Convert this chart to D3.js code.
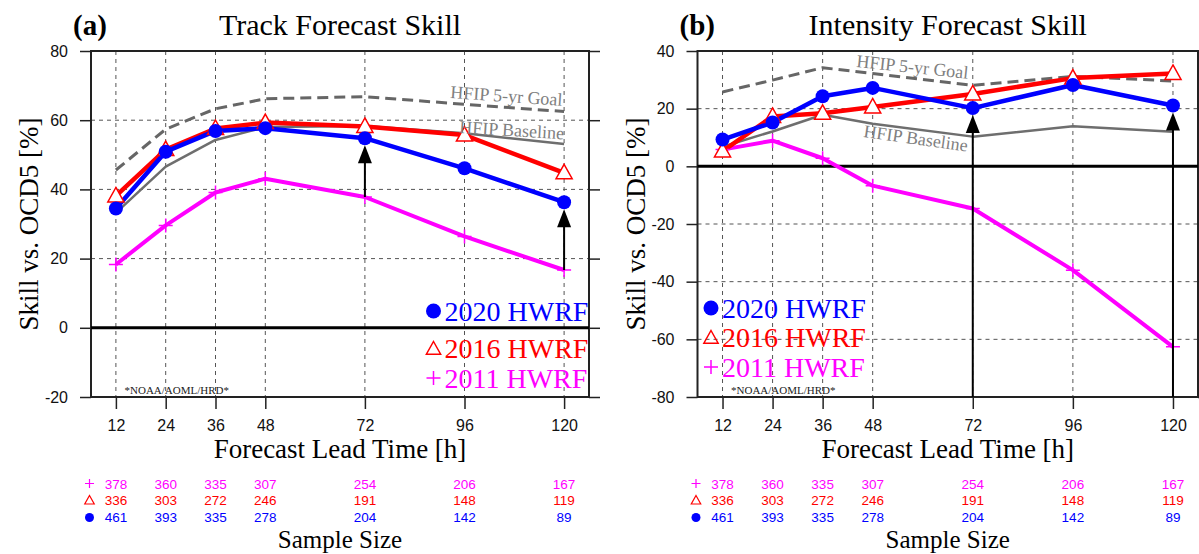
<!DOCTYPE html>
<html>
<head>
<meta charset="utf-8">
<script src="https://cdn.jsdelivr.net/npm/d3@7"></script>
<style>
    body { margin: 0; background: #fff; }
    .serif { font-family: "Liberation Serif", "Times New Roman", serif; }
    .sans  { font-family: "Liberation Sans", Arial, sans-serif; }
</style>
</head>
<body>
<svg id="chart" width="1199" height="554"></svg>
<script>

    // lead times and sample sizes (same in both panels)
    var leadTimes  = [12, 24, 36, 48, 72, 96, 120];
    var sample2011 = [378, 360, 335, 307, 254, 206, 167];
    var sample2016 = [336, 303, 272, 246, 191, 148, 119];
    var sample2020 = [461, 393, 335, 278, 204, 142, 89];

    // (a) track skill [%]
    var trackTicks    = [-20, 0, 20, 40, 60, 80];
    var trackGoal     = [45.6, 57.4, 63.3, 66.2, 66.8, 64.6, 62.5];
    var trackBaseline = [33.2, 46.6, 54.3, 58.0, 58.3, 56.2, 53.1];
    var track2011     = [18.3, 29.6, 39.1, 43.1, 37.8, 26.4, 16.7];
    var track2016     = [38.1, 51.5, 57.6, 59.3, 58.2, 55.7, 44.8];
    var track2020     = [34.5, 50.9, 56.9, 57.7, 54.8, 46.1, 36.3];

    // (b) intensity skill [%]
    var intTicks    = [-80, -60, -40, -20, 0, 20, 40];
    var intGoal     = [25.8, 29.9, 34.2, 32.2, 28.1, 31.2, 29.6];
    var intBaseline = [6.8, 12.1, 17.9, 14.8, 10.3, 13.9, 12.0];
    var int2011     = [5.8, 8.9, 2.8, -6.7, -14.6, -36.0, -62.6];
    var int2016     = [5.3, 17.3, 18.4, 20.6, 25.1, 30.6, 32.2];
    var int2020     = [9.3, 15.2, 24.3, 27.2, 20.2, 28.2, 21.1];

    var arrowLeads = [72, 120];

    var BLUE = "#0000ff", RED = "#ff0000", MAGENTA = "#ff00ff", GRAY = "#6e6e6e";

    var svg = d3.select("#chart");

    svg.append("rect").attr("width", 1199).attr("height", 554).attr("fill", "#fff");

    function plusPath (s) {
        return "M" + (-s) + ",0H" + s + "M0," + (-s) + "V" + s;
    }

    function trianglePath (s) {
        return "M0," + (-s) + "L" + (s * 0.95) + "," + (s * 0.7) + "L" + (-s * 0.95) + "," + (s * 0.7) + "Z";
    }

    function drawPanel (p) {

        var top = 51, bottom = 397,
            cx = (p.left + p.right) / 2,
            g = svg.append("g");

        var x = d3.scaleLinear().domain([6, 126]).range([p.left, p.right]),
            y = d3.scaleLinear().domain(p.yDomain).range([bottom, top]);

        // dashed grid
        g.selectAll("line.vgrid")
            .data(leadTimes)
            .enter()
            .append("line")
            .attr("x1", x).attr("x2", x)
            .attr("y1", top).attr("y2", bottom)
            .attr("stroke", "#555").attr("stroke-width", 1).attr("stroke-dasharray", "4,4");

        g.selectAll("line.hgrid")
            .data(p.yTicks.filter(function (v) { return v !== 0 && v !== p.yDomain[0] && v !== p.yDomain[1]; }))
            .enter()
            .append("line")
            .attr("x1", p.left).attr("x2", p.right)
            .attr("y1", y).attr("y2", y)
            .attr("stroke", "#555").attr("stroke-width", 1).attr("stroke-dasharray", "4,4");

        // axes (plain hyphen for negatives, like the original)
        var ya = g.append("g")
            .attr("transform", "translate(" + p.left + ",0)")
            .call(d3.axisLeft(y).tickValues(p.yTicks).tickSize(11).tickPadding(12)
                .tickFormat(function (d) { return String(d); }));

        var yb = g.append("g")
            .attr("transform", "translate(" + p.right + ",0)")
            .call(d3.axisRight(y).tickValues(p.yTicks).tickSize(11).tickFormat(""));

        var xa = g.append("g")
            .attr("transform", "translate(0," + bottom + ")")
            .call(d3.axisBottom(x).tickValues(leadTimes).tickSize(12).tickPadding(11)
                .tickFormat(function (d) { return String(d); }));

        [ya, yb, xa].forEach(function (a) {
            a.select(".domain").remove();
            a.selectAll(".tick line").attr("stroke", "#222").attr("stroke-width", 1.5);
            a.selectAll(".tick text")
                .attr("class", "sans")
                .attr("font-size", 16)
                .attr("fill", "#111");
        });

        // frame and zero line
        g.append("rect")
            .attr("x", p.left).attr("y", top)
            .attr("width", p.right - p.left).attr("height", bottom - top)
            .attr("fill", "none").attr("stroke", "#222").attr("stroke-width", 2);

        g.append("line")
            .attr("x1", p.left).attr("x2", p.right)
            .attr("y1", y(0)).attr("y2", y(0))
            .attr("stroke", "#000").attr("stroke-width", 3);

        var line = d3.line()
            .x(function (d, i) { return x(leadTimes[i]); })
            .y(function (d) { return y(d); });

        function series (values, colour, width, dash) {
            g.append("path")
                .attr("d", line(values))
                .attr("fill", "none")
                .attr("stroke", colour)
                .attr("stroke-width", width)
                .attr("stroke-dasharray", dash || null)
                .attr("stroke-linejoin", "round");
        }

        series(p.goal, "#666", 3, "11,6");
        series(p.baseline, GRAY, 2.5);
        series(p.h2011, MAGENTA, 4);
        series(p.h2016, RED, 4.5);
        series(p.h2020, BLUE, 4.5);

        // markers
        g.selectAll("path.plus")
            .data(p.h2011)
            .enter()
            .append("path")
            .attr("transform", function (d, i) { return "translate(" + x(leadTimes[i]) + "," + y(d) + ")"; })
            .attr("d", plusPath(7))
            .attr("stroke", MAGENTA).attr("stroke-width", 1.5);

        g.selectAll("path.tri")
            .data(p.h2016)
            .enter()
            .append("path")
            .attr("transform", function (d, i) { return "translate(" + x(leadTimes[i]) + "," + y(d) + ")"; })
            .attr("d", trianglePath(8.5))
            .attr("fill", "#fff").attr("stroke", RED).attr("stroke-width", 1.5);

        g.selectAll("circle.dot")
            .data(p.h2020)
            .enter()
            .append("circle")
            .attr("cx", function (d, i) { return x(leadTimes[i]); })
            .attr("cy", function (d) { return y(d); })
            .attr("r", 7)
            .attr("fill", BLUE);

        // improvement arrows
        arrowLeads.forEach(function (lead) {
            var i = leadTimes.indexOf(lead),
                ax = x(lead),
                y0 = p.arrowFromBottom ? bottom : y(p.h2011[i]),
                y1 = y(p.h2020[i]) + 7;

            g.append("line")
                .attr("x1", ax).attr("x2", ax)
                .attr("y1", y0).attr("y2", y1 + 10)
                .attr("stroke", "#000").attr("stroke-width", 2);

            g.append("path")
                .attr("d", "M" + ax + "," + y1 + "L" + (ax + 7) + "," + (y1 + 18) + "L" + (ax - 7) + "," + (y1 + 18) + "Z")
                .attr("fill", "#000");
        });

        // HFIP labels
        g.append("text")
            .attr("class", "serif")
            .attr("transform", "translate(" + p.goalLabel[0] + "," + p.goalLabel[1] + ") rotate(" + p.goalLabel[2] + ")")
            .attr("font-size", 18).attr("fill", "#808080")
            .text("HFIP 5-yr Goal");

        g.append("text")
            .attr("class", "serif")
            .attr("transform", "translate(" + p.baseLabel[0] + "," + p.baseLabel[1] + ") rotate(" + p.baseLabel[2] + ")")
            .attr("font-size", 18).attr("fill", "#808080")
            .text("HFIP Baseline");

        g.append("text")
            .attr("class", "serif")
            .attr("x", p.left + 33.5).attr("y", 394)
            .attr("font-size", 11).attr("fill", "#222")
            .text("*NOAA/AOML/HRD*");

        // legend
        var lx = p.legend[0], ly = p.legend[1];

        g.append("circle").attr("cx", lx).attr("cy", ly[0]).attr("r", 7.5).attr("fill", BLUE);
        g.append("path").attr("transform", "translate(" + lx + "," + (ly[1] + 1) + ")")
            .attr("d", trianglePath(7.5)).attr("fill", "none").attr("stroke", RED).attr("stroke-width", 1.5);
        g.append("path").attr("transform", "translate(" + lx + "," + ly[2] + ")")
            .attr("d", plusPath(7)).attr("stroke", MAGENTA).attr("stroke-width", 1.5);

        [["2020 HWRF", BLUE], ["2016 HWRF", RED], ["2011 HWRF", MAGENTA]].forEach(function (e, i) {
            g.append("text")
                .attr("class", "serif")
                .attr("x", lx + 11).attr("y", ly[i] + 9.5)
                .attr("font-size", 28).attr("fill", e[1])
                .text(e[0]);
        });

        // titles
        g.append("text").attr("class", "serif")
            .attr("x", p.left - 18).attr("y", 35)
            .attr("font-size", 29).attr("font-weight", "bold")
            .text(p.tag);

        g.append("text").attr("class", "serif")
            .attr("x", cx).attr("y", 35).attr("text-anchor", "middle")
            .attr("font-size", 30)
            .text(p.title);

        g.append("text").attr("class", "serif")
            .attr("transform", "translate(" + (p.left - 53) + "," + ((top + bottom) / 2) + ") rotate(-90)")
            .attr("text-anchor", "middle")
            .attr("font-size", 27)
            .text("Skill vs. OCD5 [%]");

        g.append("text").attr("class", "serif")
            .attr("x", cx).attr("y", 458).attr("text-anchor", "middle")
            .attr("font-size", 27)
            .text("Forecast Lead Time [h]");

        g.append("text").attr("class", "serif")
            .attr("x", cx).attr("y", 548).attr("text-anchor", "middle")
            .attr("font-size", 25)
            .text("Sample Size");

        // sample size table
        var rows = [[sample2011, MAGENTA, 488.5], [sample2016, RED, 505], [sample2020, BLUE, 522]];

        rows.forEach(function (r) {
            g.selectAll(null)
                .data(r[0])
                .enter()
                .append("text")
                .attr("class", "sans")
                .attr("x", function (d, i) { return x(leadTimes[i]); })
                .attr("y", r[2])
                .attr("text-anchor", "middle")
                .attr("font-size", 13.5)
                .attr("fill", r[1])
                .text(function (d) { return d; });
        });

        var mx = p.left - 1.5;
        g.append("path").attr("transform", "translate(" + mx + ",483.5)")
            .attr("d", plusPath(4.5)).attr("stroke", MAGENTA).attr("stroke-width", 1.2);
        g.append("path").attr("transform", "translate(" + mx + ",500.5)")
            .attr("d", trianglePath(5)).attr("fill", "none").attr("stroke", RED).attr("stroke-width", 1.2);
        g.append("circle").attr("cx", mx).attr("cy", 517.5).attr("r", 4.5).attr("fill", BLUE);
    }

    drawPanel({
        left: 91, right: 589,
        yDomain: [-20, 80], yTicks: trackTicks,
        tag: "(a)", title: "Track Forecast Skill",
        goal: trackGoal, baseline: trackBaseline,
        h2011: track2011, h2016: track2016, h2020: track2020,
        arrowFromBottom: false,
        goalLabel: [450, 98, 4], baseLabel: [459, 133, 3.5],
        legend: [433.5, [311, 348, 378]]
    });

    drawPanel({
        left: 697.5, right: 1198,
        yDomain: [-80, 40], yTicks: intTicks,
        tag: "(b)", title: "Intensity Forecast Skill",
        goal: intGoal, baseline: intBaseline,
        h2011: int2011, h2016: int2016, h2020: int2020,
        arrowFromBottom: true,
        goalLabel: [856, 67, 6], baseLabel: [863, 137, 8],
        legend: [711, [308, 337, 367]]
    });

</script>
</body>
</html>
